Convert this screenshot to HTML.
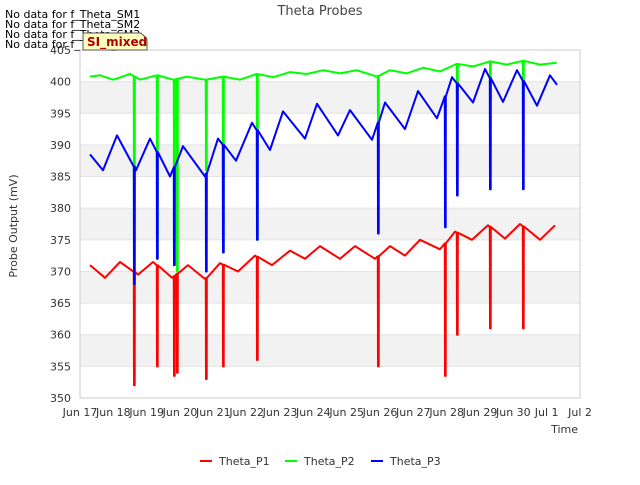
<!DOCTYPE html>
<html><head><meta charset="utf-8"><style>
body{margin:0;background:#fff;font-family:"Liberation Sans","DejaVu Sans",sans-serif}
svg text{font-family:"DejaVu Sans","Liberation Sans",sans-serif}
</style></head><body>
<svg id="chart" width="640" height="480" viewBox="0 0 640 480" xmlns="http://www.w3.org/2000/svg">
<rect width="640" height="480" fill="#fff"/>
<g id="bands"></g>
<g id="grid"></g>
<rect x="80" y="50" width="500" height="348" fill="none" stroke="#ccc"/>
<g id="yticks" font-size="11" fill="#333"></g>
<g id="xticks" font-size="11" fill="#333"></g>
<g id="series"></g>
<text x="320" y="15" font-size="13" fill="#444" text-anchor="middle">Theta Probes</text>
<text x="17" y="226" font-size="11" fill="#333" text-anchor="middle" transform="rotate(-90 17 226)">Probe Output (mV)</text>
<text x="578" y="433" font-size="11" fill="#333" text-anchor="end">Time</text>
<g font-size="11" fill="#000">
<text x="5" y="18">No data for f_Theta_SM1</text>
<text x="5" y="28">No data for f_Theta_SM2</text>
<text x="5" y="38">No data for f_Theta_SM3</text>
<text x="5" y="48">No data for f_Theta_SM4</text>
</g>
<g>
<path d="M83,33 L141,33 L147,39 L147,50 L83,50 Z" fill="#ffffc0" stroke="#555"/>
<text x="87" y="46" font-size="12" fill="#b00000" font-weight="bold">SI_mixed</text>
</g>
<g id="legend" font-size="11" fill="#333">
<line x1="200" y1="461" x2="212" y2="461" stroke="#f00" stroke-width="2"/>
<text x="219" y="465">Theta_P1</text>
<line x1="285" y1="461" x2="297" y2="461" stroke="#0f0" stroke-width="2"/>
<text x="304" y="465">Theta_P2</text>
<line x1="371" y1="461" x2="383" y2="461" stroke="#00f" stroke-width="2"/>
<text x="390" y="465">Theta_P3</text>
</g>
</svg>
<script>
const yTicks=[350,355,360,365,370,375,380,385,390,395,400,405];
const xTickLabels=["Jun 17","Jun 18","Jun 19","Jun 20","Jun 21","Jun 22","Jun 23","Jun 24","Jun 25","Jun 26","Jun 27","Jun 28","Jun 29","Jun 30","Jul 1","Jul 2"];
const p1Days=[0.3,0.75,1.2,1.74,2.19,2.76,3.24,3.75,4.2,4.74,5.25,5.76,6.3,6.75,7.2,7.8,8.25,8.85,9.3,9.75,10.2,10.8,11.25,11.76,12.24,12.75,13.2,13.8,14.25];
const p1Vals=[371,369,371.5,369.5,371.5,369,371,368.8,371.3,370,372.5,371,373.3,372,374,372,374,372,374,372.5,375,373.5,376.3,375,377.3,375.2,377.5,375,377.3];
const p1SpikeDays=[1.62,2.31,2.82,2.91,3.78,4.29,5.31,8.94,10.95,11.31,12.3,13.29];
const p1SpikeVals=[352,355,353.5,354,353,355,356,355,353.5,360,361,361];
const p2Days=[0.3,0.6,1,1.5,1.8,2.3,2.8,3.2,3.75,4.3,4.8,5.3,5.8,6.3,6.8,7.3,7.8,8.3,8.9,9.3,9.8,10.3,10.8,11.3,11.8,12.3,12.8,13.3,13.8,14.3];
const p2Vals=[400.8,401,400.3,401.2,400.3,401,400.3,400.8,400.3,400.8,400.3,401.2,400.7,401.5,401.2,401.8,401.3,401.8,400.8,401.8,401.3,402.2,401.6,402.8,402.4,403.2,402.7,403.3,402.7,403];
const p2SpikeDays=[1.62,2.31,2.82,2.91,3.78,4.29,5.31,8.94,11.31,12.3,13.29];
const p2SpikeVals=[368,372,371,370,386,373,375,393,396,397,398];
const p3Days=[0.3,0.69,1.11,1.68,2.1,2.7,3.09,3.75,4.14,4.68,5.16,5.7,6.09,6.75,7.11,7.74,8.1,8.76,9.15,9.75,10.14,10.71,11.16,11.79,12.15,12.69,13.11,13.71,14.1,14.31];
const p3Vals=[388.5,386,391.5,386,391,385,389.8,385,391,387.5,393.5,389.2,395.3,391,396.5,391.5,395.5,390.8,396.7,392.5,398.5,394.2,400.7,396.7,402,396.8,401.8,396.2,401,399.5];
const p3SpikeDays=[1.62,2.31,2.82,3.78,4.29,5.31,8.94,10.95,11.31,12.3,13.29];
const p3SpikeVals=[368,372,371,370,373,375,376,377,382,383,383];

const X=d=>80+d*(500/15);
const Y=v=>398-(v-350)*(348/55);
const NS="http://www.w3.org/2000/svg";
const bands=document.getElementById('bands');
for(let v=355;v<405;v+=10){
  const r=document.createElementNS(NS,'rect');
  
  
  r.setAttribute('x',80);r.setAttribute('width',500);
  r.setAttribute('y',Y(v+5));r.setAttribute('height',Y(v)-Y(v+5));
  r.setAttribute('fill','#f2f2f2');bands.appendChild(r);
}
const yt=document.getElementById('yticks');
yTicks.forEach(v=>{
  const t=document.createElementNS(NS,'text');
  
  
  t.setAttribute('x',71);t.setAttribute('y',Y(v)+4);t.setAttribute('text-anchor','end');
  t.textContent=v;yt.appendChild(t);
  const l=document.createElementNS(NS,'line');
  
  
  l.setAttribute('x1',80);l.setAttribute('x2',580);l.setAttribute('y1',Y(v));l.setAttribute('y2',Y(v));
  l.setAttribute('stroke','#e4e4e4');document.getElementById('grid').appendChild(l);
});
const xt=document.getElementById('xticks');
xTickLabels.forEach((s,i)=>{
  const t=document.createElementNS(NS,'text');
  
  
  t.setAttribute('x',X(i));t.setAttribute('y',416);t.setAttribute('text-anchor','middle');
  t.textContent=s;xt.appendChild(t);
});
function build(days,vals,sd,sv){
  const pts=days.map((d,i)=>[d,vals[i]]);
  const interp=d=>{for(let i=0;i<days.length-1;i++){if(d>=days[i]&&d<=days[i+1]){const f=(d-days[i])/(days[i+1]-days[i]);return vals[i]+f*(vals[i+1]-vals[i]);}}return vals[vals.length-1];};
  sd.forEach((d,i)=>{const b=interp(d);pts.push([d-0.005,b],[d,sv[i]],[d+0.02,sv[i]],[d+0.025,b]);});
  pts.sort((a,b)=>a[0]-b[0]);
  return pts.map((p,i)=>(i?'L':'M')+X(p[0]).toFixed(1)+','+Y(p[1]).toFixed(1)).join(' ');
}
const ser=document.getElementById('series');
[[p1Days,p1Vals,p1SpikeDays,p1SpikeVals,'#f00','series-theta-p1'],
 [p2Days,p2Vals,p2SpikeDays,p2SpikeVals,'#0f0','series-theta-p2'],
 [p3Days,p3Vals,p3SpikeDays,p3SpikeVals,'#00f','series-theta-p3']].forEach(s=>{
  const p=document.createElementNS(NS,'path');
  
  
  p.setAttribute('d',build(s[0],s[1],s[2],s[3]));
  p.setAttribute('fill','none');p.setAttribute('stroke',s[4]);p.setAttribute('stroke-width','2');
  p.setAttribute('stroke-linejoin','round');
  ser.appendChild(p);
});
</script>
</body></html>
